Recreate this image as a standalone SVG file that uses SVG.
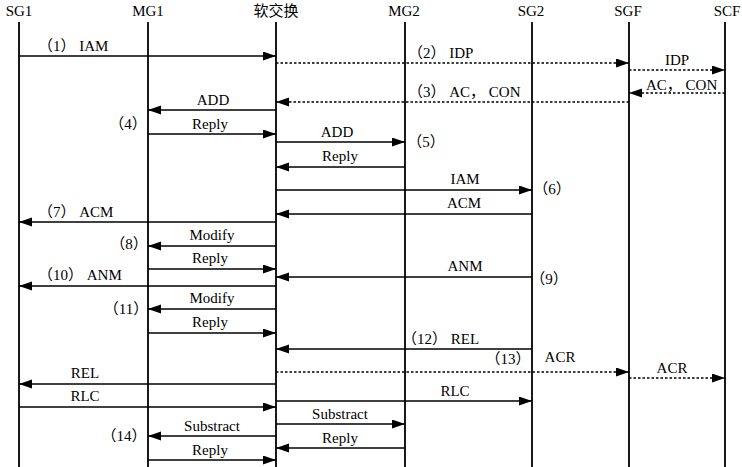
<svg xmlns="http://www.w3.org/2000/svg" width="742" height="467" viewBox="0 0 742 467">
<style>
text{font-family:"Liberation Serif","Noto Sans CJK SC",serif;font-size:15px;fill:#000}
.h{text-anchor:middle}
.c{text-anchor:middle}
.life{stroke:#000;stroke-width:1.8;fill:none}
.m{stroke:#000;stroke-width:1.5;fill:none;marker-end:url(#ah)}
.d{stroke:#000;stroke-width:1.4;fill:none;stroke-dasharray:2.5 2;marker-end:url(#ah)}
</style>
<defs>
<marker id="ah" markerUnits="userSpaceOnUse" markerWidth="14" markerHeight="10" refX="13" refY="4.5" orient="auto" viewBox="0 0 14 10">
<path d="M0,0 L13,4.5 L0,9 z" fill="#000"/>
</marker>
</defs>
<rect width="742" height="467" fill="#fff"/>
<g id="SG1"><text class="h" x="19" y="16">SG1</text><line class="life" x1="19" y1="22" x2="19" y2="467"/></g>
<g id="MG1"><text class="h" x="148" y="16">MG1</text><line class="life" x1="148" y1="22" x2="148" y2="467"/></g>
<g id="SoftSwitch"><text class="h" x="276" y="16">软交换</text><line class="life" x1="276" y1="22" x2="276" y2="467"/></g>
<g id="MG2"><text class="h" x="404" y="16">MG2</text><line class="life" x1="405" y1="22" x2="405" y2="467"/></g>
<g id="SG2"><text class="h" x="531" y="16">SG2</text><line class="life" x1="532" y1="22" x2="532" y2="467"/></g>
<g id="SGF"><text class="h" x="628" y="16">SGF</text><line class="life" x1="629" y1="22" x2="629" y2="467"/></g>
<g id="SCF"><text class="h" x="727" y="16">SCF</text><line class="life" x1="725" y1="22" x2="725" y2="467"/></g>
<g id="connectors">
<line class="m" x1="19" y1="56" x2="276" y2="56"/>
<line class="d" x1="276" y1="63" x2="629" y2="63"/>
<line class="d" x1="629" y1="70" x2="725" y2="70"/>
<line class="d" x1="725" y1="93" x2="629" y2="93"/>
<line class="d" x1="629" y1="102" x2="276" y2="102"/>
<line class="m" x1="276" y1="110" x2="148" y2="110"/>
<line class="m" x1="148" y1="134" x2="276" y2="134"/>
<line class="m" x1="276" y1="142" x2="405" y2="142"/>
<line class="m" x1="405" y1="167" x2="276" y2="167"/>
<line class="m" x1="276" y1="190" x2="532" y2="190"/>
<line class="m" x1="532" y1="214" x2="276" y2="214"/>
<line class="m" x1="276" y1="222" x2="19" y2="222"/>
<line class="m" x1="276" y1="246" x2="148" y2="246"/>
<line class="m" x1="148" y1="269" x2="276" y2="269"/>
<line class="m" x1="532" y1="277" x2="276" y2="277"/>
<line class="m" x1="276" y1="286" x2="19" y2="286"/>
<line class="m" x1="276" y1="309" x2="148" y2="309"/>
<line class="m" x1="148" y1="333" x2="276" y2="333"/>
<line class="m" x1="532" y1="349" x2="276" y2="349"/>
<line class="d" x1="276" y1="372" x2="629" y2="372"/>
<line class="d" x1="629" y1="378" x2="725" y2="378"/>
<line class="m" x1="276" y1="384" x2="19" y2="384"/>
<line class="m" x1="276" y1="401" x2="532" y2="401"/>
<line class="m" x1="19" y1="407" x2="276" y2="407"/>
<line class="m" x1="276" y1="424" x2="405" y2="424"/>
<line class="m" x1="276" y1="436" x2="148" y2="436"/>
<line class="m" x1="405" y1="448" x2="276" y2="448"/>
<line class="m" x1="148" y1="460" x2="276" y2="460"/>
</g>
<g id="labels">
<text x="38" y="51">（1） IAM</text>
<text x="408" y="58">（2） IDP</text>
<text class="c" x="677" y="65">IDP</text>
<text x="646" y="90">AC， CON</text>
<text x="408" y="97">（3） AC， CON</text>
<text class="c" x="213" y="105">ADD</text>
<text class="c" x="128" y="129">（4）</text>
<text class="c" x="210" y="129">Reply</text>
<text class="c" x="337" y="137">ADD</text>
<text class="c" x="426" y="147">（5）</text>
<text class="c" x="340" y="161">Reply</text>
<text class="c" x="465" y="184">IAM</text>
<text class="c" x="552" y="194">（6）</text>
<text class="c" x="464" y="208">ACM</text>
<text x="38" y="217">（7） ACM</text>
<text class="c" x="212" y="240">Modify</text>
<text class="c" x="129" y="249">（8）</text>
<text class="c" x="210" y="263">Reply</text>
<text class="c" x="465" y="271">ANM</text>
<text class="c" x="549" y="284">（9）</text>
<text x="38" y="280">（10） ANM</text>
<text class="c" x="212" y="303">Modify</text>
<text class="c" x="126" y="314">（11）</text>
<text class="c" x="210" y="327">Reply</text>
<text x="402" y="344">（12） REL</text>
<text class="c" x="508" y="364">（13）</text>
<text class="c" x="560" y="362">ACR</text>
<text class="c" x="672" y="373">ACR</text>
<text class="c" x="85" y="378">REL</text>
<text class="c" x="85" y="401">RLC</text>
<text class="c" x="455" y="396">RLC</text>
<text class="c" x="340" y="419">Substract</text>
<text class="c" x="212" y="431">Substract</text>
<text class="c" x="124" y="441">（14）</text>
<text class="c" x="340" y="443">Reply</text>
<text class="c" x="210" y="455">Reply</text>
</g>
</svg>
